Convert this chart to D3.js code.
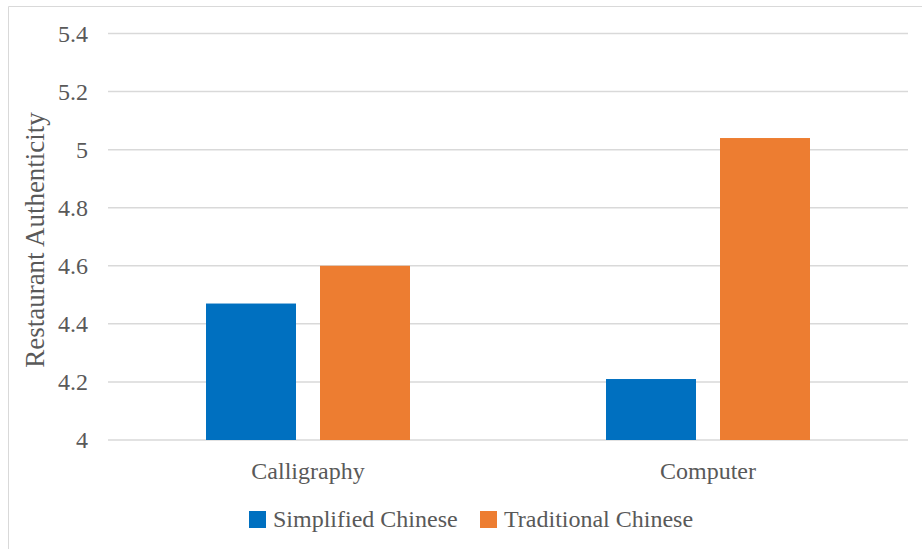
<!DOCTYPE html>
<html>
<head>
<meta charset="utf-8">
<script src="https://cdn.jsdelivr.net/npm/d3@7"></script>
<style>
  body { margin: 0; background: #fff; }
  svg { display: block; }
</style>
</head>
<body>
<svg id="chart"></svg>
<script>
var categories = ["Calligraphy", "Computer"]
var series = ["Simplified Chinese", "Traditional Chinese"]
var simplified = [4.47, 4.21]
var traditional = [4.60, 5.04]
var yTicks = [4, 4.2, 4.4, 4.6, 4.8, 5, 5.2, 5.4]
var colors = ["#0070C0", "#ED7D31"]

var dims = {
  width: 922,
  height: 549,
  margin: { top: 33.5, bottom: 109, left: 108, right: 14 }
}

var font = "Liberation Serif"
var textColor = "#595959"

var svg = d3.select("#chart")
  .attr("width", dims.width)
  .attr("height", dims.height)

// chart border (top and left visible)
svg.append("path")
  .attr("d", "M8.5,549 V6.5 H922")
  .attr("fill", "none")
  .attr("stroke", "#d9d9d9")
  .attr("stroke-width", 1)

var x0 = d3.scaleBand()
  .domain(categories)
  .range([dims.margin.left, dims.width - dims.margin.right])

var x1 = d3.scaleBand()
  .domain(series)
  .range([x0.bandwidth() / 2 - 102, x0.bandwidth() / 2 + 102])
  .paddingInner(0.2105)

var y = d3.scaleLinear()
  .domain([4, 5.4])
  .range([dims.height - dims.margin.bottom, dims.margin.top])

// gridlines
svg.append("g")
  .selectAll("line")
  .data(yTicks)
  .enter()
  .append("line")
    .attr("x1", dims.margin.left)
    .attr("x2", dims.width - dims.margin.right)
    .attr("y1", d => y(d))
    .attr("y2", d => y(d))
    .attr("stroke", "#d9d9d9")
    .attr("stroke-width", 1.5)

// y tick labels
var yAxis = svg.append("g")
  .attr("transform", `translate(${dims.margin.left},0)`)
  .call(d3.axisLeft(y).tickValues(yTicks).tickFormat(d => d3.format("~g")(d)).tickSize(0).tickPadding(20))
yAxis.select(".domain").remove()
yAxis.selectAll("text")
  .attr("fill", textColor)
  .style("font-size", "24px")
  .style("font-family", font)

// bars
var rows = categories.map((c, i) => ({ cat: c, vals: [simplified[i], traditional[i]] }))

var groups = svg.selectAll("g.grp")
  .data(rows)
  .enter()
  .append("g")
    .attr("class", "grp")
    .attr("transform", d => `translate(${x0(d.cat)},0)`)

groups.selectAll("rect")
  .data(d => d.vals.map((v, j) => ({ s: series[j], v: v, j: j })))
  .enter()
  .append("rect")
    .attr("x", d => x1(d.s))
    .attr("y", d => y(d.v))
    .attr("width", x1.bandwidth())
    .attr("height", d => y(4) - y(d.v))
    .attr("fill", d => colors[d.j])

// x labels
var xAxis = svg.append("g")
  .attr("transform", `translate(0,${y(4)})`)
  .call(d3.axisBottom(x0).tickSize(0).tickPadding(22))
xAxis.select(".domain").remove()
xAxis.selectAll("text")
  .attr("fill", textColor)
  .style("font-size", "24px")
  .style("font-family", font)

// y axis title
svg.append("text")
  .attr("transform", "translate(44,240) rotate(-90)")
  .attr("text-anchor", "middle")
  .attr("fill", textColor)
  .style("font-size", "27px")
  .style("font-family", font)
  .text("Restaurant Authenticity")

// legend
var legendX = [249, 480]
var legend = svg.append("g")
series.forEach((s, i) => {
  legend.append("rect")
    .attr("x", legendX[i])
    .attr("y", 511)
    .attr("width", 17)
    .attr("height", 17)
    .attr("fill", colors[i])
  legend.append("text")
    .attr("x", legendX[i] + 24)
    .attr("y", 527)
    .attr("fill", textColor)
    .style("font-size", "24px")
    .style("font-family", font)
    .text(s)
})
</script>
</body>
</html>
